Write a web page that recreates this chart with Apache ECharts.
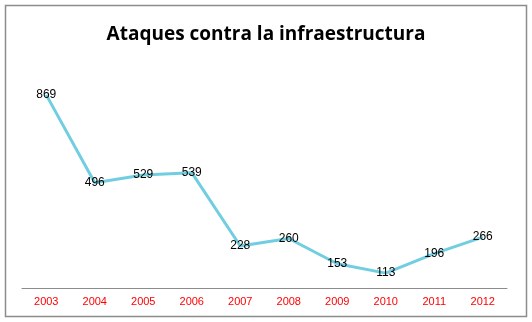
<!DOCTYPE html>
<html><head><meta charset="utf-8">
<script src="https://cdn.jsdelivr.net/npm/echarts@6/dist/echarts.min.js"></script>
<style>html,body{margin:0;padding:0;background:#fff}#c{width:532px;height:322px}</style>
</head><body><div id="c"></div>
<script>
const years = ['2003','2004','2005','2006','2007','2008','2009','2010','2011','2012'];
const ataques = [869,496,529,539,228,260,153,113,196,266];
const titleText = 'Ataques contra la infraestructura';

const chart = echarts.init(document.getElementById('c'), null, {renderer:'canvas'});
chart.setOption({
  animation:false,
  backgroundColor:'#fff',
  title:{text:titleText,left:'center',top:20,textStyle:{fontFamily:'Open Sans',fontWeight:'bold',fontSize:19,color:'#000'}},
  graphic:[{type:'rect',shape:{x:5.5,y:5.5,width:521,height:311},style:{fill:'none',stroke:'#8c8c8c',lineWidth:1.5},silent:true}],
  grid:{left:22,right:25,top:64,bottom:34},
  xAxis:{type:'category',data:years,boundaryGap:true,
    axisLine:{lineStyle:{color:'#8c8c8c',width:1}},axisTick:{show:false},
    axisLabel:{color:'#ff0000',fontFamily:'Liberation Sans',fontSize:11,margin:8}},
  yAxis:{type:'value',min:50,max:1000,show:false,splitLine:{show:false}},
  series:[{type:'line',data:ataques,showSymbol:true,symbol:'circle',symbolSize:2,
    itemStyle:{color:'rgba(0,0,0,0)',borderWidth:0},
    lineStyle:{color:'#70CEE0',width:3},
    label:{show:true,position:'inside',color:'#000',fontFamily:'Liberation Sans',fontSize:12}}]
});
</script></body></html>
